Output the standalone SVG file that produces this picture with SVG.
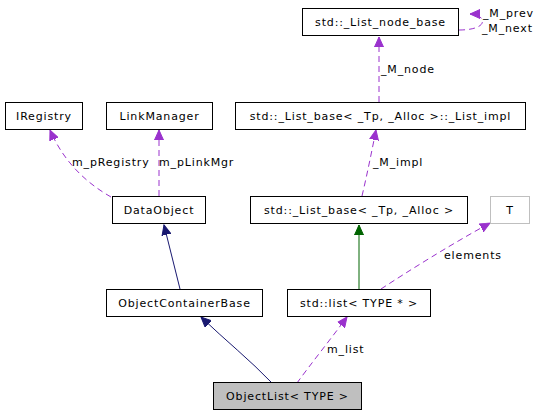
<svg xmlns="http://www.w3.org/2000/svg" width="541" height="416" viewBox="0 0 541 416">
<style>
text{font-family:"DejaVu Sans",sans-serif;font-size:11px;letter-spacing:0.85px;fill:#000}
.n rect{fill:#fff;stroke:#000;stroke-width:1}
.n text{text-anchor:middle}
.p{fill:none;stroke:#9a32cd;stroke-width:1;stroke-dasharray:6,4}
.b{fill:none;stroke:#191970;stroke-width:1}
.g{fill:none;stroke:#006400;stroke-width:1}
</style>
<defs>
<marker id="ap" markerUnits="userSpaceOnUse" markerWidth="12" markerHeight="10" refX="10" refY="5" orient="auto"><path d="M0,0.5 L10,5 L0,9.5 Z" fill="#9a32cd" stroke="#9a32cd"/></marker>
<marker id="ab" markerUnits="userSpaceOnUse" markerWidth="12" markerHeight="10" refX="10" refY="5" orient="auto"><path d="M0,0.5 L10,5 L0,9.5 Z" fill="#191970" stroke="#191970"/></marker>
<marker id="ag" markerUnits="userSpaceOnUse" markerWidth="12" markerHeight="10" refX="10" refY="5" orient="auto"><path d="M0,0.5 L10,5 L0,9.5 Z" fill="#006400" stroke="#006400"/></marker>
</defs>
<rect width="541" height="416" fill="#fff"/>
<g id="connectors">
<path class="p" d="M459,30 C478,30 486,24 481,18 C479,15 474,14 470,14" marker-end="url(#ap)"/>
<path class="p" d="M379,102 L379,37" marker-end="url(#ap)"/>
<path class="p" d="M362,196 C367,175 372,150 376,130" marker-end="url(#ap)"/>
<path class="p" d="M111,197 C90,185 65,165 50,130" marker-end="url(#ap)"/>
<path class="p" d="M159,196 L159,130" marker-end="url(#ap)"/>
<path class="b" d="M180,289 L164,225" marker-end="url(#ab)"/>
<path class="g" d="M359,289 L359,225" marker-end="url(#ag)"/>
<path class="p" d="M381,289 C410,270 450,245 490,223" marker-end="url(#ap)"/>
<path class="b" d="M272,383 C250,360 225,340 201,317" marker-end="url(#ab)"/>
<path class="p" d="M297,383 C310,365 330,340 347,317" marker-end="url(#ap)"/>
<text x="483" y="17">_M_prev</text>
<text x="482" y="32">_M_next</text>
<text x="381" y="73">_M_node</text>
<text x="72" y="166">m_pRegistry</text>
<text x="159" y="166">m_pLinkMgr</text>
<text x="373" y="166">_M_impl</text>
<text x="444" y="259">elements</text>
<text x="327" y="353">m_list</text>
</g>
<g id="node_list_node_base" class="n"><rect x="302.5" y="8.5" width="156" height="27"/><text x="380.5" y="26">std::_List_node_base</text></g>
<g id="node_IRegistry" class="n"><rect x="5.5" y="102.5" width="77" height="27"/><text x="44" y="120">IRegistry</text></g>
<g id="node_LinkManager" class="n"><rect x="106.5" y="102.5" width="106" height="27"/><text x="159.5" y="120">LinkManager</text></g>
<g id="node_List_impl" class="n"><rect x="235.5" y="102.5" width="290" height="27"/><text x="380.5" y="120">std::_List_base&lt; _Tp, _Alloc &gt;::_List_impl</text></g>
<g id="node_DataObject" class="n"><rect x="112.5" y="196.5" width="93" height="27"/><text x="159" y="214">DataObject</text></g>
<g id="node_List_base" class="n"><rect x="250.5" y="196.5" width="217" height="27"/><text x="359" y="214">std::_List_base&lt; _Tp, _Alloc &gt;</text></g>
<g id="node_T" class="n"><rect x="490.5" y="196.5" width="39" height="27" style="stroke:#bfbfbf"/><text x="510" y="214">T</text></g>
<g id="node_ObjectContainerBase" class="n"><rect x="106.5" y="289.5" width="156" height="27"/><text x="184.5" y="307">ObjectContainerBase</text></g>
<g id="node_std_list" class="n"><rect x="287.5" y="289.5" width="143" height="27"/><text x="359" y="307">std::list&lt; TYPE * &gt;</text></g>
<g id="node_ObjectList" class="n"><rect x="213.5" y="382.5" width="148" height="27" style="fill:#bfbfbf"/><text x="287.5" y="400">ObjectList&lt; TYPE &gt;</text></g>
</svg>
